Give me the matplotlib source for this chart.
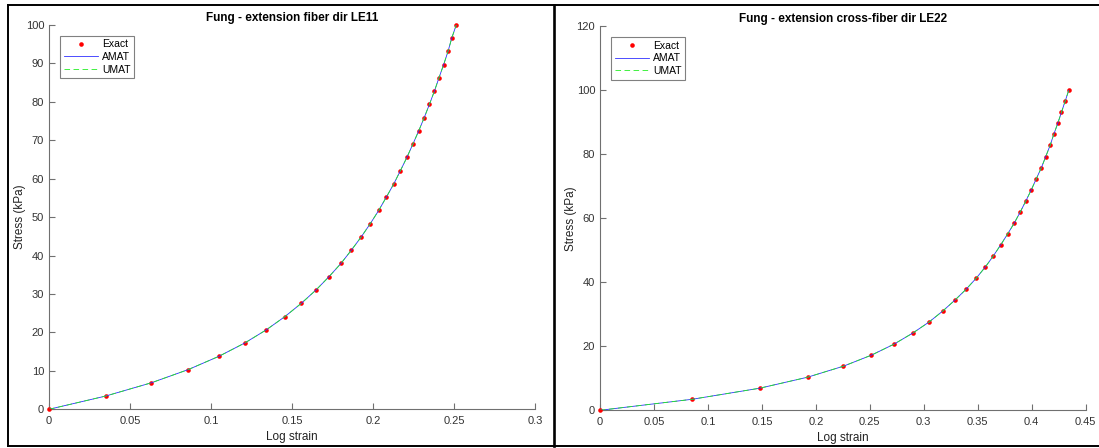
import matplotlib
matplotlib.use("Agg")
import matplotlib.pyplot as plt
from matplotlib.lines import Line2D

plt.rcParams['font.family'] = ['Liberation Sans', 'DejaVu Sans']
plt.rcParams['lines.scale_dashes'] = False

# --- Data: stress samples shared by both load cases (kPa) ---
stress = [0.0, 3.45, 6.90, 10.34, 13.79, 17.24, 20.69, 24.14, 27.59, 31.03,
          34.48, 37.93, 41.38, 44.83, 48.28, 51.72, 55.17, 58.62, 62.07, 65.52,
          68.97, 72.41, 75.86, 79.31, 82.76, 86.21, 89.66, 93.10, 96.55, 100.0]

# log strain, fiber direction (LE11)
strain_fiber = [0.0, 0.0350, 0.0632, 0.0860, 0.1049, 0.1208, 0.1342, 0.1457,
                0.1558, 0.1648, 0.1728, 0.1802, 0.1866, 0.1927, 0.1983, 0.2035,
                0.2082, 0.2128, 0.2169, 0.2209, 0.2246, 0.2282, 0.2316, 0.2348,
                0.2379, 0.2407, 0.2436, 0.2463, 0.2486, 0.2514]

# log strain, cross-fiber direction (LE22)
strain_cross = [0.0, 0.0855, 0.1479, 0.1923, 0.2256, 0.2515, 0.2725, 0.2898,
                0.3049, 0.3176, 0.3290, 0.3395, 0.3488, 0.3571, 0.3645, 0.3713,
                0.3778, 0.3840, 0.3895, 0.3947, 0.3997, 0.4043, 0.4090, 0.4130,
                0.4170, 0.4204, 0.4241, 0.4275, 0.4309, 0.4343]

titles = ["Fung - extension fiber dir LE11",
          "Fung - extension cross-fiber dir LE22"]

xticks_fiber = [0, 0.05, 0.1, 0.15, 0.2, 0.25, 0.3]
xlabels_fiber = ["0", "0.05", "0.1", "0.15", "0.2", "0.25", "0.3"]
yticks_fiber = [0, 10, 20, 30, 40, 50, 60, 70, 80, 90, 100]

xticks_cross = [0, 0.05, 0.1, 0.15, 0.2, 0.25, 0.3, 0.35, 0.4, 0.45]
xlabels_cross = ["0", "0.05", "0.1", "0.15", "0.2", "0.25", "0.3", "0.35", "0.4", "0.45"]
yticks_cross = [0, 20, 40, 60, 80, 100, 120]

W, H = 1099, 448
fig = plt.figure(figsize=(W / 100, H / 100), dpi=100)

AX_COL = "#707070"
TXT_COL = "#333333"


def px_axes(x0, y_top, x1, y_bot):
    return fig.add_axes([x0 / W, 1 - y_bot / H, (x1 - x0) / W, (y_bot - y_top) / H])


panels = [
    (px_axes(49, 24.9, 535, 409.3), strain_fiber, titles[0],
     xticks_fiber, xlabels_fiber, yticks_fiber, (0, 0.3), (0, 100)),
    (px_axes(600, 26.3, 1085.7, 410.3), strain_cross, titles[1],
     xticks_cross, xlabels_cross, yticks_cross, (0, 0.45), (0, 120)),
]

for ax, strain, title, xt, xl, yt, xlim, ylim in panels:
    ax.plot(strain, stress, linestyle="none", marker="o", markersize=3.3,
            color="red", markeredgewidth=0, label="Exact", clip_on=False, zorder=3)
    ax.plot(strain, stress, color="#3030ff", linewidth=0.6, label="AMAT", zorder=4)
    ax.plot(strain, stress, color="#22ee22", linewidth=0.6, dashes=(4, 2.5),
            label="UMAT", zorder=5)

    ax.set_xlim(*xlim)
    ax.set_ylim(*ylim)
    ax.set_xticks(xt)
    ax.set_xticklabels(xl)
    ax.set_yticks(yt)

    for side in ("top", "right"):
        ax.spines[side].set_visible(False)
    for side in ("left", "bottom"):
        ax.spines[side].set_color(AX_COL)
        ax.spines[side].set_linewidth(0.8)
    ax.tick_params(direction="in", length=4, width=0.8, color=AX_COL,
                   labelsize=8, labelcolor=TXT_COL)
    ax.tick_params(axis="x", pad=5)
    ax.tick_params(axis="y", pad=3.5)

    ax.set_title(title, fontsize=8.5, fontweight="bold", pad=3)
    ax.set_xlabel("Log strain", fontsize=8.5, color="#222222", labelpad=3.5)
    ax.set_ylabel("Stress (kPa)", fontsize=8.5, color="#222222", labelpad=-0.5)

    leg = ax.legend(loc="upper left", bbox_to_anchor=(0.0226, 0.972),
                    borderaxespad=0, fontsize=7.5, handlelength=3.3,
                    handletextpad=0.4, labelspacing=0.25, borderpad=0.35,
                    fancybox=False, framealpha=1)
    leg.get_frame().set_edgecolor("#808080")
    leg.get_frame().set_linewidth(0.8)

# window frames around the two panels
frame_kw = dict(color="black", linewidth=1.4, transform=fig.transFigure)
fig.add_artist(Line2D([8.3 / W, 1.0], [1 - 5.3 / H, 1 - 5.3 / H], **frame_kw))
fig.add_artist(Line2D([8.3 / W, 1.0], [1 - 446 / H, 1 - 446 / H], **frame_kw))
fig.add_artist(Line2D([8.3 / W, 8.3 / W], [1 - 5.3 / H, 1 - 446 / H], **frame_kw))
fig.add_artist(Line2D([553.8 / W, 553.8 / W], [1 - 5.3 / H, 1 - 446 / H],
                      color="black", linewidth=1.9, transform=fig.transFigure))

fig.savefig("out.png", dpi=100)
